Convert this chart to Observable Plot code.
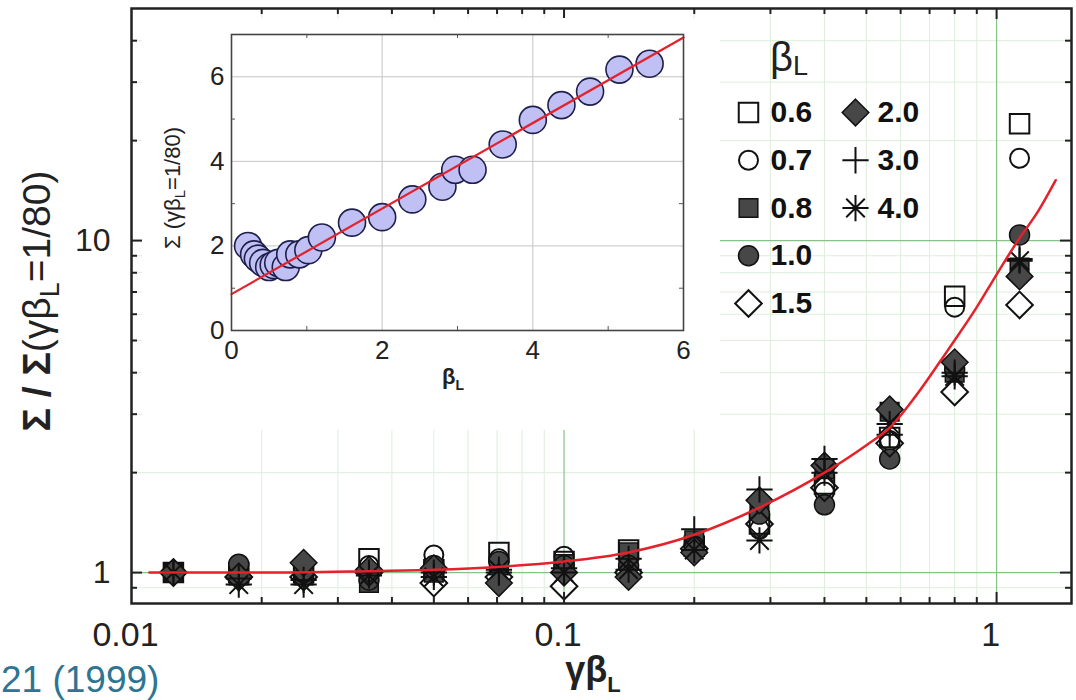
<!DOCTYPE html>
<html><head><meta charset="utf-8">
<script src="https://cdn.jsdelivr.net/npm/d3@7"></script>
<script src="https://cdn.jsdelivr.net/npm/@observablehq/plot@0.6"></script>
<style>
body{margin:0;background:#fff;font-family:"Liberation Sans",Arial,sans-serif;}
#wrap{position:relative;width:1076px;height:700px;overflow:hidden;background:#fff;}
#wrap > div, #wrap > svg{position:absolute;}
</style></head><body><div id="wrap"></div>
<script>
// ---------------- data ----------------
const gammaBeta = [0.0125, 0.0177, 0.025, 0.0354, 0.05, 0.0707, 0.1, 0.141, 0.2, 0.283, 0.4, 0.566, 0.8, 1.13];
const seriesNames = ["0.6", "0.7", "0.8", "1.0", "1.5", "2.0", "3.0", "4.0"];
const sigma06 = [1.0, 1.0, 1.0, 1.10, 1.02, 1.15, 1.08, 1.17, 1.20, 1.40, 1.85, 2.55, 6.8, 22.5];
const sigma07 = [1.0, 1.02, 1.0, 1.05, 1.13, 1.10, 1.12, 1.12, 1.22, 1.35, 1.75, 2.50, 6.3, 17.7];
const sigma08 = [1.0, 0.98, 0.98, 0.93, 1.0, 1.05, 1.06, 1.15, 1.25, 1.55, 2.05, 3.05, 4.0, 8.3];
const sigma10 = [1.0, 1.06, 1.0, 0.95, 1.05, 1.08, 1.05, 1.05, 1.20, 1.50, 1.60, 2.20, 4.1, 10.4];
const sigma15 = [1.0, 0.97, 0.97, 1.0, 0.93, 0.97, 0.91, 1.0, 1.18, 1.40, 1.80, 2.45, 3.5, 6.4];
const sigma20 = [1.0, 0.97, 1.07, 1.02, 1.03, 0.93, 1.0, 0.97, 1.15, 1.65, 2.10, 3.10, 4.3, 7.8];
const sigma30 = [1.0, 0.96, 0.95, 1.0, 1.0, 1.0, 1.03, 1.10, 1.35, 1.78, 2.20, 2.60, 4.0, 8.8];
const sigma40 = [1.0, 0.92, 0.92, 0.98, 0.97, 1.02, 1.0, 1.02, 1.17, 1.25, 2.0, 2.80, 3.9, 8.7];
const seriesValues = [sigma06, sigma07, sigma08, sigma10, sigma15, sigma20, sigma30, sigma40];

const fitGammaBeta = [0.011, 0.02, 0.035, 0.05, 0.07, 0.1, 0.141, 0.2, 0.283, 0.4, 0.5, 0.566, 0.65, 0.77, 0.9, 1.0, 1.12, 1.25, 1.37];
const fitSigma     = [1.0, 1.0, 1.01, 1.02, 1.04, 1.08, 1.15, 1.3, 1.57, 2.0, 2.42, 2.73, 3.4, 4.66, 6.3, 7.9, 10.0, 12.3, 15.2];

const insetBeta  = [0.22, 0.3, 0.35, 0.42, 0.5, 0.56, 0.62, 0.72, 0.78, 0.9, 1.02, 1.2, 1.6, 2.0, 2.4, 2.8, 2.97, 3.2, 3.6, 4.0, 4.38, 4.76, 5.15, 5.55];
const insetSigma = [2.0, 1.8, 1.7, 1.6, 1.5, 1.55, 1.6, 1.5, 1.8, 1.8, 1.9, 2.2, 2.55, 2.68, 3.1, 3.4, 3.8, 3.8, 4.4, 4.98, 5.33, 5.65, 6.17, 6.31];
const insetFitBeta  = [0, 6];
const insetFitSigma = [0.86, 6.93];

const xTickLabels = [0.01, 0.1, 1];
const yTickLabels = [1, 10];
const xMinor = [0.02,0.03,0.04,0.05,0.06,0.07,0.08,0.09,0.2,0.3,0.4,0.5,0.6,0.7,0.8,0.9];
const yMinor = [0.9,2,3,4,5,6,7,8,9,20,30,40];
const insetTicks = [0, 2, 4, 6];
const insetMinor = [1, 3, 5];

const legendRow = [0, 1, 2, 3, 4, 0, 1, 2];
const legendCol = [0, 0, 0, 0, 0, 1, 1, 1];

// ---------------- styles ----------------
const FONT = '"Liberation Sans", Arial, sans-serif';
const asterisk8 = {
  draw(ctx, size) {
    const r = Math.sqrt(size / Math.PI) * 1.25, d = r * Math.SQRT1_2;
    ctx.moveTo(-r, 0); ctx.lineTo(r, 0);
    ctx.moveTo(0, -r); ctx.lineTo(0, r);
    ctx.moveTo(-d, -d); ctx.lineTo(d, d);
    ctx.moveTo(-d, d); ctx.lineTo(d, -d);
  }
};
const DARK = "#474747";
const styles = {
  "0.6": {symbol: "square", r: 11, fill: "none", stroke: "#111", sw: 2},
  "0.7": {symbol: "circle", r: 9.5, fill: "none", stroke: "#111", sw: 2},
  "0.8": {symbol: "square", r: 10.5, fill: DARK, stroke: "#111", sw: 1.5},
  "1.0": {symbol: "circle", r: 10, fill: DARK, stroke: "#111", sw: 1.5},
  "1.5": {symbol: "diamond2", r: 12, fill: "none", stroke: "#111", sw: 2},
  "2.0": {symbol: "diamond2", r: 12, fill: DARK, stroke: "#111", sw: 1.5},
  "3.0": {symbol: "plus", r: 8.5, fill: "none", stroke: "#111", sw: 2},
  "4.0": {symbol: asterisk8, r: 10.5, fill: "none", stroke: "#111", sw: 2}
};
const RED = "#e3222b";

// ---------------- main chart ----------------
const rows = [];
seriesNames.forEach((name, i) => gammaBeta.forEach((g, j) => rows.push({series: name, x: g, y: seriesValues[i][j]})));
const fit = fitGammaBeta.map((g, i) => ({x: g, y: fitSigma[i]}));

const W = 1076, H = 700, mL = 131, mR = 5, mT = 8, mB = 97;
const fw = W - mL - mR, fh = H - mT - mB;
const tickStroke = "#222";

const main = Plot.plot({
  width: W, height: H,
  marginLeft: mL, marginRight: mR, marginTop: mT, marginBottom: mB,
  x: {type: "log", domain: [0.01, 1.49]},
  y: {type: "log", domain: [0.807, 50]},
  style: {fontFamily: FONT, background: "transparent", color: "#222"},
  marks: [
    Plot.ruleX(xMinor, {x: d => d, stroke: "#dcefdc", strokeWidth: 1}),
    Plot.ruleY(yMinor, {y: d => d, stroke: "#dcefdc", strokeWidth: 1}),
    Plot.ruleX([0.1, 1], {x: d => d, stroke: "#86c286", strokeWidth: 1.2}),
    Plot.ruleY([1, 10], {y: d => d, stroke: "#86c286", strokeWidth: 1.2}),
    ...seriesNames.map(name => {
      const st = styles[name];
      return Plot.dot(rows.filter(d => d.series === name), {
        x: "x", y: "y", symbol: st.symbol, r: st.r, fill: st.fill, stroke: st.stroke, strokeWidth: st.sw
      });
    }),
    Plot.line(fit, {x: "x", y: "y", stroke: RED, strokeWidth: 2.5, curve: "monotone-x"}),
    // inward ticks
    Plot.tickX(xTickLabels.slice(1), {x: d => d, insetTop: fh - 11, stroke: tickStroke, strokeWidth: 2}),
    Plot.tickX(xMinor, {x: d => d, insetTop: fh - 6, stroke: tickStroke, strokeWidth: 2}),
    Plot.tickX(xTickLabels.slice(1), {x: d => d, insetBottom: fh - 11, stroke: tickStroke, strokeWidth: 2}),
    Plot.tickX(xMinor, {x: d => d, insetBottom: fh - 6, stroke: tickStroke, strokeWidth: 2}),
    Plot.tickY(yTickLabels, {y: d => d, insetRight: fw - 11, stroke: tickStroke, strokeWidth: 2}),
    Plot.tickY(yMinor, {y: d => d, insetRight: fw - 6, stroke: tickStroke, strokeWidth: 2}),
    Plot.tickY(yTickLabels, {y: d => d, insetLeft: fw - 11, stroke: tickStroke, strokeWidth: 2}),
    Plot.tickY(yMinor, {y: d => d, insetLeft: fw - 6, stroke: tickStroke, strokeWidth: 2}),
    Plot.frame({stroke: "#222", strokeWidth: 2.5}),
    Plot.axisX(xTickLabels, {tickSize: 0, tickPadding: 18, dx: -6, fontSize: 34, label: null, tickFormat: d => String(d)}),
    Plot.axisY(yTickLabels, {tickSize: 0, tickPadding: 21, fontSize: 32, label: null, tickFormat: d => String(d)})
  ]
});
main.style.left = "0px"; main.style.top = "0px";
document.getElementById("wrap").appendChild(main);

const ms = d3.select(main);
// y-axis label
const yl = ms.append("text").attr("transform", "translate(50,301) rotate(-90)")
  .attr("text-anchor", "middle").attr("font-size", 39).attr("fill", "#222").attr("font-family", FONT);
yl.append("tspan").attr("font-weight", "bold").text("Σ / Σ");
yl.append("tspan").text("(γβ");
yl.append("tspan").attr("font-size", 27).attr("dy", 9).text("L");
yl.append("tspan").attr("dy", -9).text("=1/80)");
// x-axis label
const xl = ms.append("text").attr("x", 593).attr("y", 682).attr("text-anchor", "middle")
  .attr("font-size", 36).attr("font-weight", "bold").attr("fill", "#222").attr("font-family", FONT);
xl.append("tspan").text("γβ");
xl.append("tspan").attr("font-size", 22).attr("dy", 10).text("L");
// legend title
const lt = ms.append("text").attr("x", 770).attr("y", 71).attr("text-anchor", "start")
  .attr("font-size", 40).attr("fill", "#222").attr("font-family", FONT);
lt.append("tspan").text("β");
lt.append("tspan").attr("font-size", 27).attr("dy", 4).text("L");
// caption
ms.append("text").attr("x", 1).attr("y", 692).attr("text-anchor", "start").attr("font-size", 37)
  .attr("fill", "#2d7590").attr("font-family", FONT).text("21 (1999)");

// ---------------- legend ----------------
const legendData = seriesNames.map((name, i) => ({name, row: legendRow[i], col: legendCol[i]}));
const legend = Plot.plot({
  width: 240, height: 300, margin: 0,
  x: {domain: [0, 1], range: [23, 130], axis: null},
  y: {domain: [0, 4], range: [72, 263], axis: null},
  style: {fontFamily: FONT, background: "transparent"},
  marks: [
    ...legendData.map(d => {
      const st = styles[d.name];
      return Plot.dot([d], {x: "col", y: "row", symbol: st.symbol, r: st.r, fill: st.fill, stroke: st.stroke, strokeWidth: st.sw});
    }),
    Plot.text(legendData, {x: "col", y: "row", text: "name", dx: 22, textAnchor: "start", fontSize: 30, fontWeight: "bold", fill: "#111"})
  ]
});
legend.style.left = "725px"; legend.style.top = "40px";
document.getElementById("wrap").appendChild(legend);

// ---------------- inset ----------------
const insetPts = insetBeta.map((b, i) => ({x: b, y: insetSigma[i]}));
const insetFit = insetFitBeta.map((b, i) => ({x: b, y: insetFitSigma[i]}));
const iW = 578, iH = 412, iL = 89, iR = 37, iT = 16, iB = 100;
const ifw = iW - iL - iR, ifh = iH - iT - iB;
const inset = Plot.plot({
  width: iW, height: iH, marginLeft: iL, marginRight: iR, marginTop: iT, marginBottom: iB,
  x: {domain: [0, 6]}, y: {domain: [0, 7]},
  style: {fontFamily: FONT, background: "white", color: "#222"},
  marks: [
    Plot.ruleX([2, 4], {x: d => d, stroke: "#c4c4c4", strokeWidth: 1}),
    Plot.ruleY([2, 4, 6], {y: d => d, stroke: "#c4c4c4", strokeWidth: 1}),
    Plot.dot(insetPts, {x: "x", y: "y", r: 13.5, fill: "#c0c0f4", stroke: "#1f1f4d", strokeWidth: 1.6}),
    Plot.line(insetFit, {x: "x", y: "y", stroke: RED, strokeWidth: 2.2}),
    Plot.tickX(insetMinor, {x: d => d, insetTop: ifh - 4, stroke: "#555"}),
    Plot.tickX(insetMinor, {x: d => d, insetBottom: ifh - 4, stroke: "#555"}),
    Plot.tickY(insetMinor, {y: d => d, insetRight: ifw - 4, stroke: "#555"}),
    Plot.tickY(insetMinor, {y: d => d, insetLeft: ifw - 4, stroke: "#555"}),
    Plot.frame({stroke: "#444", strokeWidth: 1.6}),
    Plot.axisX(insetTicks, {tickSize: 0, tickPadding: 10, fontSize: 26, label: null}),
    Plot.axisY(insetTicks, {tickSize: 0, tickPadding: 7, fontSize: 26, label: null})
  ]
});
inset.style.left = "142px"; inset.style.top = "18px";
document.getElementById("wrap").appendChild(inset);
const is = d3.select(inset);
const il = is.append("text").attr("transform", "translate(38,170) rotate(-90)").attr("text-anchor", "middle")
  .attr("font-size", 22).attr("fill", "#222").attr("font-family", FONT);
il.append("tspan").text("Σ (γβ");
il.append("tspan").attr("font-size", 15).attr("dy", 5).text("L");
il.append("tspan").attr("dy", -5).text("=1/80)");
const ixl = is.append("text").attr("x", 311).attr("y", 366).attr("text-anchor", "middle")
  .attr("font-size", 22).attr("font-weight", "bold").attr("fill", "#222").attr("font-family", FONT);
ixl.append("tspan").text("β");
ixl.append("tspan").attr("font-size", 14).attr("dy", 6).text("L");
</script></body></html>
